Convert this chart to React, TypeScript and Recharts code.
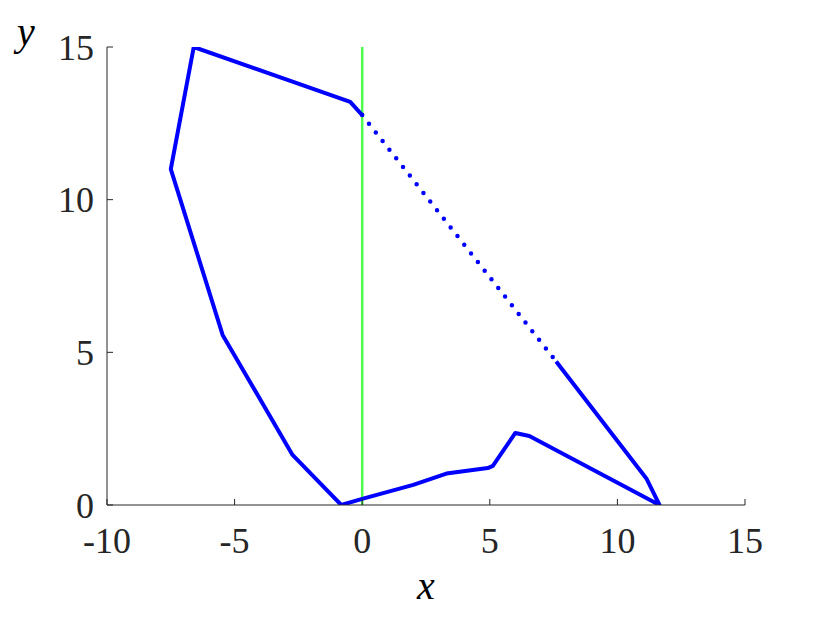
import React from 'react';
import { LineChart, Line, XAxis, YAxis, Label } from 'recharts';

// boundary, solid part (in data units)
const boundaryX = [7.6, 11.15, 11.65, 6.55, 6.0, 5.12, 4.92, 3.3, 2.0, 0, -0.82, -2.73, -5.47, -7.5, -6.6, -0.47, 0];
const boundaryY = [4.7, 0.85, 0, 2.26, 2.36, 1.28, 1.21, 1.03, 0.66, 0.2, 0, 1.64, 5.57, 11.0, 15.0, 13.2, 12.77];

// dotted stretch of the boundary
const dottedX = [0, 7.6];
const dottedY = [12.77, 4.7];

// vertical green line at x = 0
const guideX = [0, 0];
const guideY = [0, 15];

const xTicks = [-10, -5, 0, 5, 10, 15];
const yTicks = [0, 5, 10, 15];

const toPoints = (xs: number[], ys: number[]) => xs.map((x, i) => ({ x, y: ys[i] }));

const boundary = toPoints(boundaryX, boundaryY);
const dotted = toPoints(dottedX, dottedY);
const guide = toPoints(guideX, guideY);

const font = '"Liberation Serif", "Times New Roman", serif';
const axisColor = '#262626';

export default function App() {
    return (
        <LineChart
            width={814}
            height={601}
            margin={{ top: 39, right: 77, bottom: 44, left: 39 }}
            style={{ fontFamily: font }}
        >
            <XAxis
                type="number"
                dataKey="x"
                domain={[-10, 15]}
                ticks={xTicks}
                allowDataOverflow
                height={60}
                stroke={axisColor}
                tickSize={-6}
                tickMargin={28}
                tick={{ fill: '#262626', fontSize: 36, fontFamily: font }}
            >
                <Label
                    value="x"
                    position="bottom"
                    offset={6}
                    style={{ fontSize: 40, fontStyle: 'italic', fontFamily: font, fill: '#000' }}
                />
            </XAxis>
            <YAxis
                type="number"
                dataKey="y"
                domain={[0, 15]}
                ticks={yTicks}
                allowDataOverflow
                width={60}
                stroke={axisColor}
                tickSize={-6}
                tickMargin={19}
                tick={{ fill: '#262626', fontSize: 36, fontFamily: font }}
            >
                <Label
                    value="y"
                    position="insideTopLeft"
                    offset={0}
                    dx={-30}
                    dy={-30}
                    style={{ fontSize: 40, fontStyle: 'italic', fontFamily: font, fill: '#000' }}
                />
            </YAxis>
            <Line
                data={guide}
                dataKey="y"
                type="linear"
                stroke="#4dff4d"
                strokeWidth={2.5}
                dot={false}
                isAnimationActive={false}
            />
            <Line
                data={boundary}
                dataKey="y"
                type="linear"
                stroke="#0000ff"
                strokeWidth={4}
                strokeLinejoin="round"
                dot={false}
                isAnimationActive={false}
            />
            <Line
                data={dotted}
                dataKey="y"
                type="linear"
                stroke="#0000ff"
                strokeWidth={4.5}
                strokeLinecap="round"
                strokeDasharray="0 11"
                dot={false}
                isAnimationActive={false}
            />
        </LineChart>
    );
}
